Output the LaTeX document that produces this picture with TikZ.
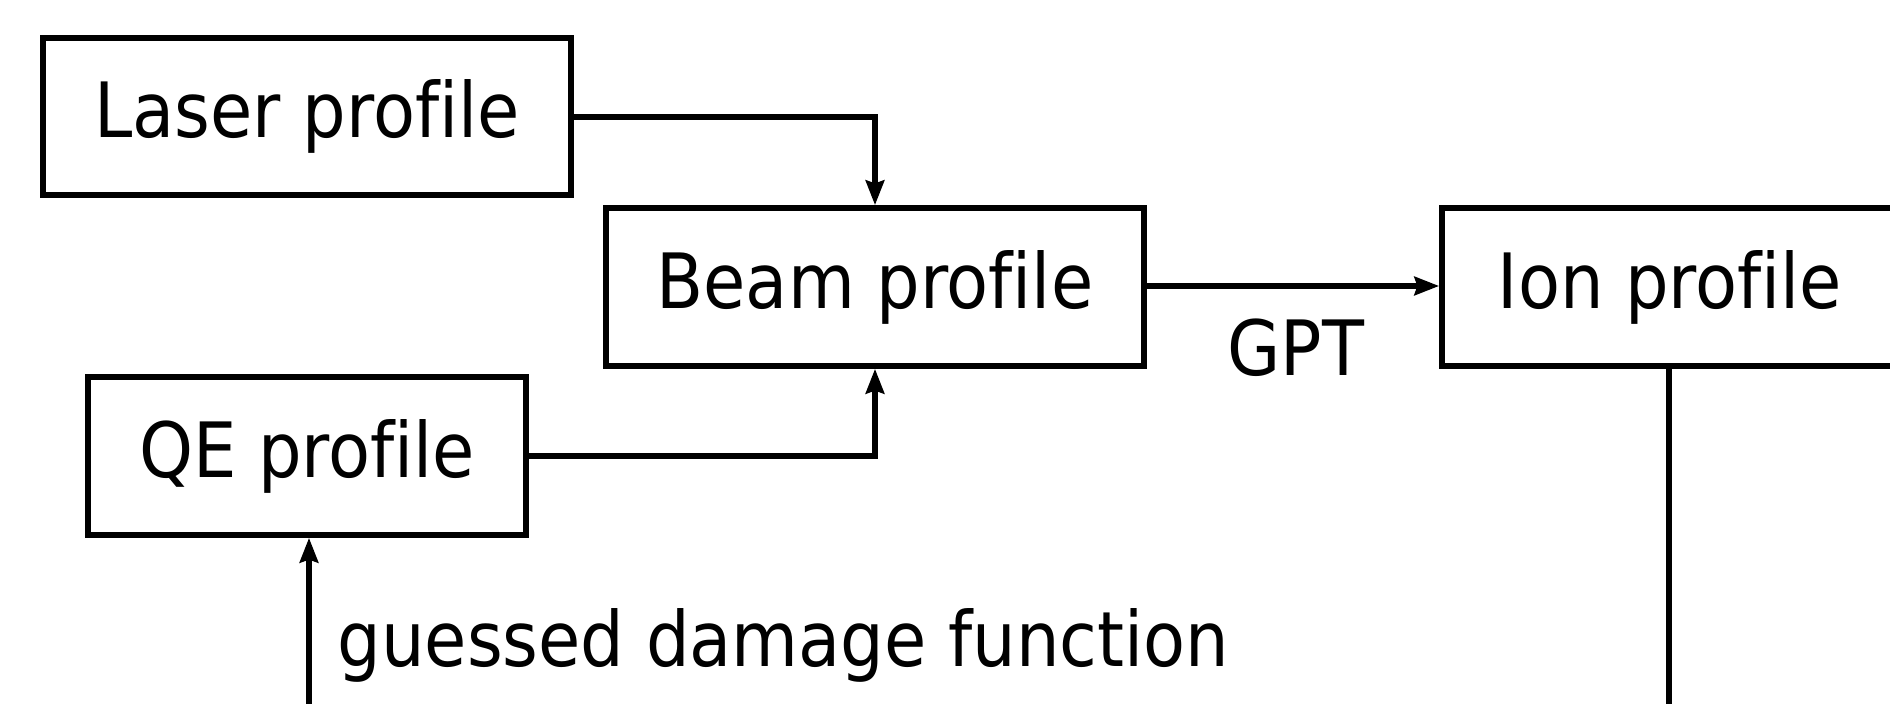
\documentclass[tikz,border=0pt]{standalone}
\usepackage{fontspec}
\setmainfont[Ligatures=NoCommon]{DejaVu Sans Condensed}
\usetikzlibrary{arrows.meta}
\newcommand{\nofi}{f\kern0pt i}
\begin{document}
\begin{tikzpicture}[x=0.01cm,y=-0.01cm,
  box/.style={draw,line width=1.6pt,rectangle,inner sep=0pt,font=\fontsize{21.7pt}{26pt}\selectfont},
  conn/.style={line width=1.6pt,-{Stealth[length=7pt,width=5.2pt,inset=0.8pt]}},
  plain/.style={line width=1.6pt},
  lbl/.style={font=\fontsize{21.7pt}{26pt}\selectfont,inner sep=0pt}]
\useasboundingbox (0,0) rectangle (1890,704);
\node[box,minimum width=528*0.01cm,minimum height=157*0.01cm] (laser) at (307,116.5) {Laser pro\nofi le};
\node[box,minimum width=538*0.01cm,minimum height=158*0.01cm] (beam) at (875,287) {Beam pro\nofi le};
\node[box,minimum width=456*0.01cm,minimum height=158*0.01cm] (ion) at (1670,287) {Ion pro\nofi le};
\node[box,minimum width=438*0.01cm,minimum height=158*0.01cm] (qe) at (307,456) {QE pro\nofi le};
\coordinate (ionend) at (1669,712);
\coordinate (dmgstart) at (309,712);
\draw[conn] (laser.east |- 0,117) -| (beam.north);
\draw[conn] (qe.east |- 0,456) -| (beam.south);
\draw[conn] (beam.east |- 0,286) -- (ion.west |- 0,286);
\draw[plain] (ion.south -| ionend) -- (ionend);
\draw[conn] (dmgstart) -- (dmgstart |- qe.south);
\node[lbl,anchor=base] (gpt) at (1296,376) {GPT};
\node[lbl,anchor=base west] (dmg) at (337,667) {guessed damage function};
\end{tikzpicture}
\end{document}
